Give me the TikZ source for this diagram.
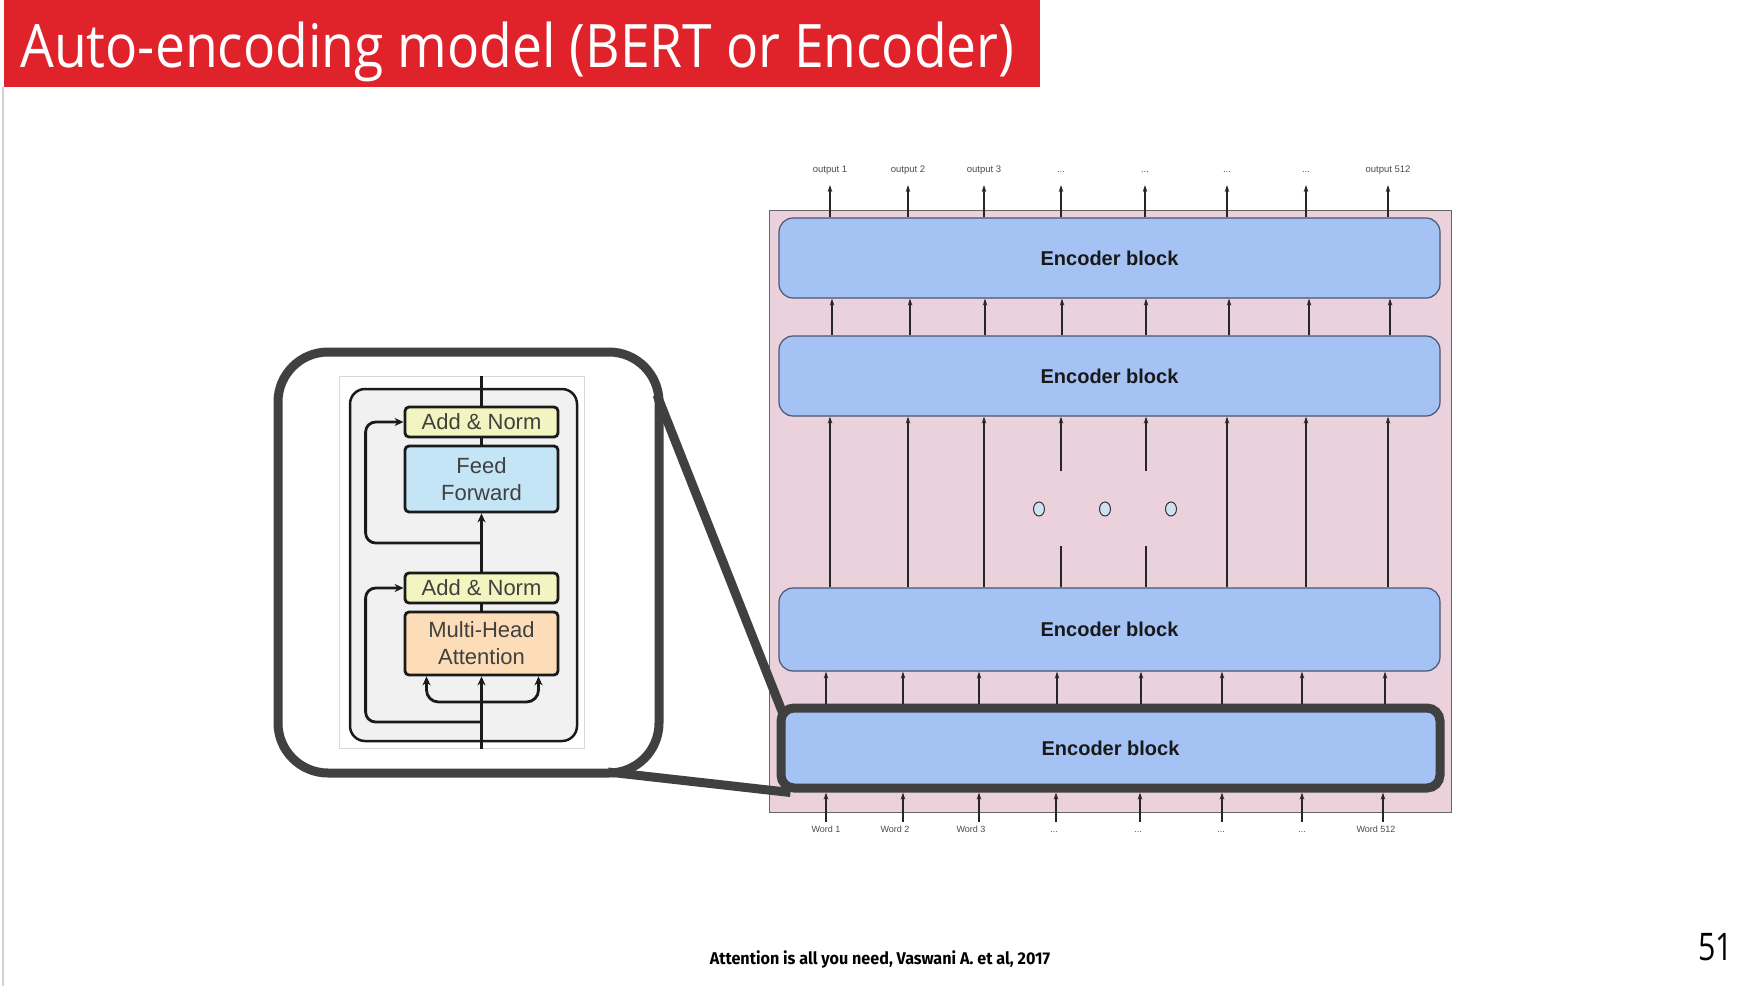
\documentclass[tikz,border=0pt]{standalone}
\usepackage{graphicx}
\usepackage{fontspec}
\setmainfont{Liberation Sans}
\newfontfamily\titlefont{Open Sans}
\newfontfamily\citefont{Fira Sans}
\usetikzlibrary{arrows.meta,shapes.geometric,calc}
\newcommand{\mydots}{...}
\definecolor{titlered}{HTML}{E0222A}
\definecolor{pinkbg}{HTML}{EAD1DC}
\definecolor{encblue}{HTML}{A4C2F4}
\definecolor{encborder}{HTML}{4A5570}
\definecolor{thickgray}{HTML}{404040}
\definecolor{dotblue}{HTML}{CFE2F3}
\definecolor{anyellow}{HTML}{F2F5C0}
\definecolor{ffblue}{HTML}{C4E5F6}
\definecolor{mhapeach}{HTML}{FCDDB7}
\definecolor{insetbg}{HTML}{F1F1F1}
\definecolor{darkline}{HTML}{1A1A1A}
\tikzset{
  arr/.style={-{Stealth[length=7pt,width=4.5pt]}, line width=1.1pt, draw=black!85},
  plain/.style={line width=1.1pt, draw=black!85},
  enc/.style={draw=encborder, fill=encblue, rounded corners=14pt, line width=1.2pt,
    minimum width=661pt, minimum height=80pt, inner sep=0pt,
    font=\bfseries\fontsize{20}{24}\selectfont, text=black!90},
  lbl/.style={font=\fontsize{9.5}{11}\selectfont, text=black!70, inner sep=1pt},
  ibox/.style={draw=darkline, line width=2.8pt, rounded corners=4pt, minimum width=153pt,
    inner sep=0pt, font=\fontsize{22}{27}\selectfont, text=black!75, align=center},
  iln/.style={line width=2.8pt, draw=darkline},
  iarr/.style={line width=2.8pt, draw=darkline, -{Stealth[length=9pt,width=8pt]}},
  conn/.style={line width=9pt, draw=thickgray},
  dot/.style={ellipse, draw=black!80, fill=dotblue, minimum width=11pt, minimum height=14pt, inner sep=0pt, line width=1pt}
}
\begin{document}
\begin{tikzpicture}[x=1pt,y=-1pt]
\useasboundingbox (0,0) rectangle (1757,986);
\fill[white] (0,0) rectangle (1757,986);
% slide edge and title
\draw[black!18, line width=2pt] (3,87) -- (3,986);
\node[fill=titlered, minimum width=1036pt, minimum height=87pt, inner sep=0pt, anchor=north west] (bar) at (4,0) {};
\node[anchor=base west, text=white, inner sep=0pt] (title) at (20,67)
  {\scalebox{0.89}[1]{\titlefont\fontsize{60}{70}\selectfont Auto-encoding model (BERT or Encoder)}};
% stack
\node[draw=black!60, fill=pinkbg, line width=1pt, minimum width=682pt, minimum height=602pt, inner sep=0pt] (stack) at (1110,511) {};
\node[enc] (b1) at (1109.5,258) {Encoder block};
\node[enc] (b2) at (1109.5,376) {Encoder block};
\node[enc, minimum height=83pt] (b3) at (1109.5,629.5) {Encoder block};
\node[enc, draw=thickgray, line width=9pt, rounded corners=13pt, minimum width=659pt, minimum height=80pt] (b4) at (1110.5,748) {Encoder block};
% outputs
\foreach \x/\t [count=\i] in {830/output 1, 908/output 2, 984/output 3, 1061/\mydots, 1145/\mydots, 1227/\mydots, 1306/\mydots, 1388/output 512}{
  \node[lbl, anchor=base] (o\i) at (\x,172) {\t};
  \draw[arr] (\x,0 |- b1.north) -- (\x,185);
}
% b2 -> b1
\foreach \x in {832,910,985,1062,1146,1229,1309,1390}{
  \draw[arr] (\x,0 |- b2.north) -- (\x,0 |- b1.south);
}
% b3 -> b2
\foreach \x in {830,908,984,1227,1306,1388}{
  \draw[arr] (\x,0 |- b3.north) -- (\x,0 |- b2.south);
}
\foreach \x in {1061,1146}{
  \draw[plain] (\x,0 |- b3.north) -- (\x,546);
  \draw[arr] (\x,471) -- (\x,0 |- b2.south);
}
\node[dot] (d1) at (1039,509) {};
\node[dot] (d2) at (1105,509) {};
\node[dot] (d3) at (1171,509) {};
% b4 -> b3
\foreach \x in {826,903,979,1057,1141,1222,1302,1385}{
  \draw[arr] (\x,0 |- b4.north) -- (\x,0 |- b3.south);
}
% inputs
\foreach \x/\lx/\t [count=\i] in {826/826/Word 1, 903/895/Word 2, 979/971/Word 3, 1056/1054/\mydots, 1140/1138/\mydots, 1222/1221/\mydots, 1302/1302/\mydots, 1383/1376/Word 512}{
  \node[lbl, font=\fontsize{9}{11}\selectfont, anchor=base] (w\i) at (\lx,832) {\t};
  \draw[arr] (\x,822) -- (\x,0 |- b4.south);
}
% inset
\node[draw=thickgray, line width=9pt, rounded corners=50pt, minimum width=381pt, minimum height=421pt, inner sep=0pt] (inset) at (468.5,562.5) {};
\node[draw=black!15, line width=0.8pt, fill=white, minimum width=244.5pt, minimum height=372pt, inner sep=0pt] (frame) at (461.75,562.5) {};
\node[draw=darkline, line width=2.5pt, fill=insetbg, rounded corners=15pt, minimum width=227pt, minimum height=352pt, inner sep=0pt] (enc) at (463.5,565) {};
\node[ibox, fill=anyellow, minimum height=30pt] (an1) at (481.5,422) {Add \& Norm};
\node[ibox, fill=ffblue, minimum height=66pt] (ff) at (481.5,479) {Feed\\Forward};
\node[ibox, fill=anyellow, minimum height=30pt] (an2) at (481.5,588) {Add \& Norm};
\node[ibox, fill=mhapeach, minimum height=63pt] (mha) at (481.5,643.5) {Multi-Head\\Attention};
\draw[iln] (an1.north) -- (an1.north |- frame.north);
\draw[iln] (ff.north) -- (an1.south);
\draw[iarr] (an2.north) -- (ff.south);
\draw[iln] (mha.north) -- (an2.south);
\draw[iarr] (mha.south |- frame.south) -- (mha.south);
\draw[iarr, rounded corners=10pt] (ff.south |- 0,543) -| ([xshift=-38pt]an1.west) -- (an1.west);
\draw[iarr, rounded corners=10pt] (mha.south |- 0,722) -| ([xshift=-38pt]an2.west) -- (an2.west);
\draw[iarr, rounded corners=12pt] (mha.south |- 0,702) -| ([xshift=-55pt]mha.south);
\draw[iarr, rounded corners=12pt] (mha.south |- 0,702) -| ([xshift=57pt]mha.south);
% zoom connectors
\coordinate (ca) at (657,395);
\coordinate (cb) at (608,772);
\draw[conn] (ca) -- ([shift={(6pt,-9pt)}]b4.north west);
\draw[conn] (cb) -- ([shift={(14pt,0pt)}]b4.south west);
% footer
\node[anchor=base, inner sep=0pt] (cite) at (880,964)
  {\scalebox{0.95}[1]{\citefont\bfseries\fontsize{17}{20}\selectfont Attention is all you need, Vaswani A. et al, 2017}};
\node[anchor=base, inner sep=0pt] (page) at (1715.5,960)
  {\scalebox{0.8}[1]{\titlefont\fontsize{38}{44}\selectfont 51}};
\end{tikzpicture}
\end{document}
